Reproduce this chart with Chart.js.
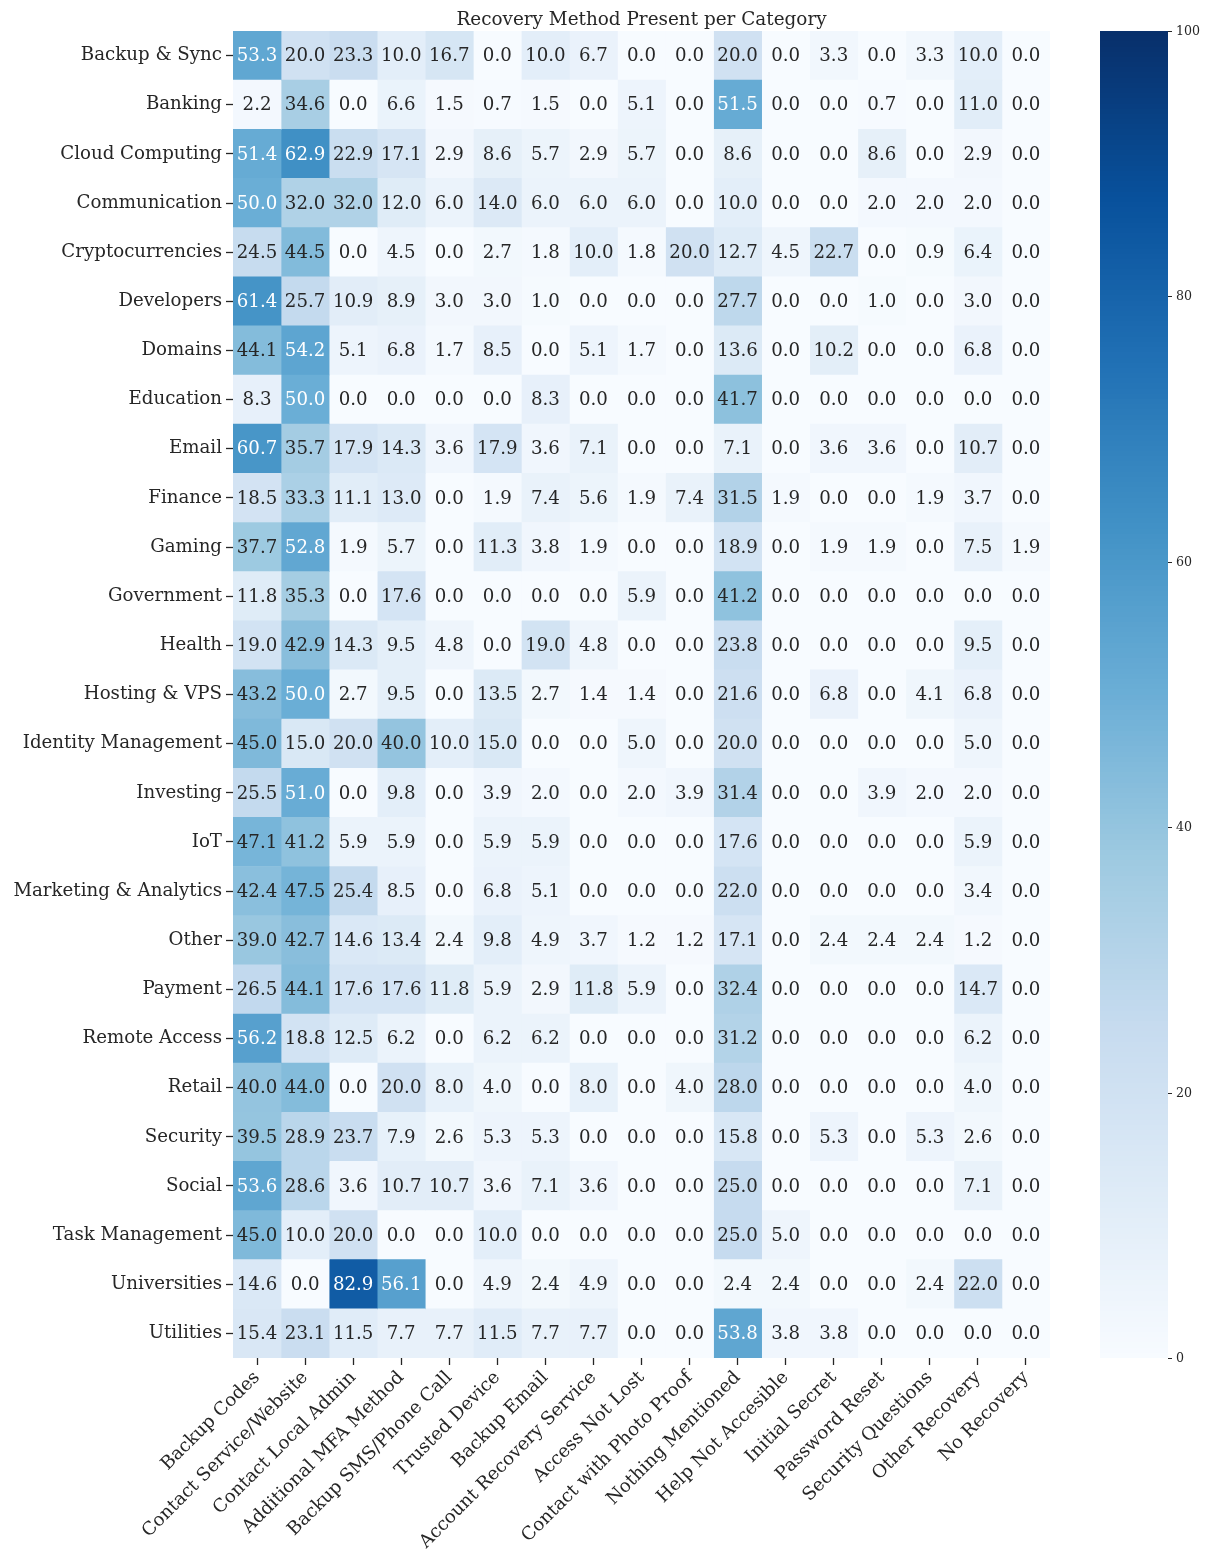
<!DOCTYPE html>
<html>
<head>
<meta charset="utf-8">
<script src="https://cdn.jsdelivr.net/npm/chart.js@4.4.1/dist/chart.umd.min.js"></script>
<style>
  body { margin: 0; background: #fff; }
  #wrap { width: 1210px; height: 1554px; position: relative; }
</style>
</head>
<body>
<div id="wrap"><canvas id="heatmap"></canvas></div>
<script>
const categories = [
  "Backup & Sync", "Banking", "Cloud Computing", "Communication", "Cryptocurrencies",
  "Developers", "Domains", "Education", "Email", "Finance", "Gaming", "Government",
  "Health", "Hosting & VPS", "Identity Management", "Investing", "IoT",
  "Marketing & Analytics", "Other", "Payment", "Remote Access", "Retail", "Security",
  "Social", "Task Management", "Universities", "Utilities"
];

const methods = [
  "Backup Codes", "Contact Service/Website", "Contact Local Admin", "Additional MFA Method",
  "Backup SMS/Phone Call", "Trusted Device", "Backup Email", "Account Recovery Service",
  "Access Not Lost", "Contact with Photo Proof", "Nothing Mentioned", "Help Not Accesible",
  "Initial Secret", "Password Reset", "Security Questions", "Other Recovery", "No Recovery"
];

const colorbarTicks = [0, 20, 40, 60, 80, 100];

// one row per category, columns in the order of `methods`
const rowBackupSync   = [53.3, 20.0, 23.3, 10.0, 16.7, 0.0, 10.0, 6.7, 0.0, 0.0, 20.0, 0.0, 3.3, 0.0, 3.3, 10.0, 0.0];
const rowBanking      = [2.2, 34.6, 0.0, 6.6, 1.5, 0.7, 1.5, 0.0, 5.1, 0.0, 51.5, 0.0, 0.0, 0.7, 0.0, 11.0, 0.0];
const rowCloud        = [51.4, 62.9, 22.9, 17.1, 2.9, 8.6, 5.7, 2.9, 5.7, 0.0, 8.6, 0.0, 0.0, 8.6, 0.0, 2.9, 0.0];
const rowComm         = [50.0, 32.0, 32.0, 12.0, 6.0, 14.0, 6.0, 6.0, 6.0, 0.0, 10.0, 0.0, 0.0, 2.0, 2.0, 2.0, 0.0];
const rowCrypto       = [24.5, 44.5, 0.0, 4.5, 0.0, 2.7, 1.8, 10.0, 1.8, 20.0, 12.7, 4.5, 22.7, 0.0, 0.9, 6.4, 0.0];
const rowDevelopers   = [61.4, 25.7, 10.9, 8.9, 3.0, 3.0, 1.0, 0.0, 0.0, 0.0, 27.7, 0.0, 0.0, 1.0, 0.0, 3.0, 0.0];
const rowDomains      = [44.1, 54.2, 5.1, 6.8, 1.7, 8.5, 0.0, 5.1, 1.7, 0.0, 13.6, 0.0, 10.2, 0.0, 0.0, 6.8, 0.0];
const rowEducation    = [8.3, 50.0, 0.0, 0.0, 0.0, 0.0, 8.3, 0.0, 0.0, 0.0, 41.7, 0.0, 0.0, 0.0, 0.0, 0.0, 0.0];
const rowEmail        = [60.7, 35.7, 17.9, 14.3, 3.6, 17.9, 3.6, 7.1, 0.0, 0.0, 7.1, 0.0, 3.6, 3.6, 0.0, 10.7, 0.0];
const rowFinance      = [18.5, 33.3, 11.1, 13.0, 0.0, 1.9, 7.4, 5.6, 1.9, 7.4, 31.5, 1.9, 0.0, 0.0, 1.9, 3.7, 0.0];
const rowGaming       = [37.7, 52.8, 1.9, 5.7, 0.0, 11.3, 3.8, 1.9, 0.0, 0.0, 18.9, 0.0, 1.9, 1.9, 0.0, 7.5, 1.9];
const rowGovernment   = [11.8, 35.3, 0.0, 17.6, 0.0, 0.0, 0.0, 0.0, 5.9, 0.0, 41.2, 0.0, 0.0, 0.0, 0.0, 0.0, 0.0];
const rowHealth       = [19.0, 42.9, 14.3, 9.5, 4.8, 0.0, 19.0, 4.8, 0.0, 0.0, 23.8, 0.0, 0.0, 0.0, 0.0, 9.5, 0.0];
const rowHosting      = [43.2, 50.0, 2.7, 9.5, 0.0, 13.5, 2.7, 1.4, 1.4, 0.0, 21.6, 0.0, 6.8, 0.0, 4.1, 6.8, 0.0];
const rowIdentity     = [45.0, 15.0, 20.0, 40.0, 10.0, 15.0, 0.0, 0.0, 5.0, 0.0, 20.0, 0.0, 0.0, 0.0, 0.0, 5.0, 0.0];
const rowInvesting    = [25.5, 51.0, 0.0, 9.8, 0.0, 3.9, 2.0, 0.0, 2.0, 3.9, 31.4, 0.0, 0.0, 3.9, 2.0, 2.0, 0.0];
const rowIoT          = [47.1, 41.2, 5.9, 5.9, 0.0, 5.9, 5.9, 0.0, 0.0, 0.0, 17.6, 0.0, 0.0, 0.0, 0.0, 5.9, 0.0];
const rowMarketing    = [42.4, 47.5, 25.4, 8.5, 0.0, 6.8, 5.1, 0.0, 0.0, 0.0, 22.0, 0.0, 0.0, 0.0, 0.0, 3.4, 0.0];
const rowOther        = [39.0, 42.7, 14.6, 13.4, 2.4, 9.8, 4.9, 3.7, 1.2, 1.2, 17.1, 0.0, 2.4, 2.4, 2.4, 1.2, 0.0];
const rowPayment      = [26.5, 44.1, 17.6, 17.6, 11.8, 5.9, 2.9, 11.8, 5.9, 0.0, 32.4, 0.0, 0.0, 0.0, 0.0, 14.7, 0.0];
const rowRemote       = [56.2, 18.8, 12.5, 6.2, 0.0, 6.2, 6.2, 0.0, 0.0, 0.0, 31.2, 0.0, 0.0, 0.0, 0.0, 6.2, 0.0];
const rowRetail       = [40.0, 44.0, 0.0, 20.0, 8.0, 4.0, 0.0, 8.0, 0.0, 4.0, 28.0, 0.0, 0.0, 0.0, 0.0, 4.0, 0.0];
const rowSecurity     = [39.5, 28.9, 23.7, 7.9, 2.6, 5.3, 5.3, 0.0, 0.0, 0.0, 15.8, 0.0, 5.3, 0.0, 5.3, 2.6, 0.0];
const rowSocial       = [53.6, 28.6, 3.6, 10.7, 10.7, 3.6, 7.1, 3.6, 0.0, 0.0, 25.0, 0.0, 0.0, 0.0, 0.0, 7.1, 0.0];
const rowTask         = [45.0, 10.0, 20.0, 0.0, 0.0, 10.0, 0.0, 0.0, 0.0, 0.0, 25.0, 5.0, 0.0, 0.0, 0.0, 0.0, 0.0];
const rowUniversities = [14.6, 0.0, 82.9, 56.1, 0.0, 4.9, 2.4, 4.9, 0.0, 0.0, 2.4, 2.4, 0.0, 0.0, 2.4, 22.0, 0.0];
const rowUtilities    = [15.4, 23.1, 11.5, 7.7, 7.7, 11.5, 7.7, 7.7, 0.0, 0.0, 53.8, 3.8, 3.8, 0.0, 0.0, 0.0, 0.0];

const cellValues = [
  rowBackupSync, rowBanking, rowCloud, rowComm, rowCrypto, rowDevelopers, rowDomains,
  rowEducation, rowEmail, rowFinance, rowGaming, rowGovernment, rowHealth, rowHosting,
  rowIdentity, rowInvesting, rowIoT, rowMarketing, rowOther, rowPayment, rowRemote,
  rowRetail, rowSecurity, rowSocial, rowTask, rowUniversities, rowUtilities
];

const VMIN = 0, VMAX = 100;
const TEXT_DARK = "#262626";

// matplotlib "Blues" anchors
const bluesStops = [
  [247, 251, 255], [222, 235, 247], [198, 219, 239], [158, 202, 225], [107, 174, 214],
  [66, 146, 198], [33, 113, 181], [8, 81, 156], [8, 48, 107]
];

function bluesRGB(v) {
  // quantize like a 256-entry colormap
  let idx = Math.floor((v - VMIN) / (VMAX - VMIN) * 256);
  idx = Math.max(0, Math.min(255, idx));
  const t = idx / 255 * (bluesStops.length - 1);
  const i = Math.min(Math.floor(t), bluesStops.length - 2);
  const f = t - i;
  const a = bluesStops[i], b = bluesStops[i + 1];
  return [0, 1, 2].map(k => a[k] + (b[k] - a[k]) * f);
}

function rgbStr(c) {
  return `rgb(${Math.round(c[0])}, ${Math.round(c[1])}, ${Math.round(c[2])})`;
}

// same rule seaborn uses to pick the annotation colour
function luminance(c) {
  const lin = c.map(x => {
    x = x / 255;
    return x <= 0.03928 ? x / 12.92 : Math.pow((x + 0.055) / 1.055, 2.4);
  });
  return 0.2126 * lin[0] + 0.7152 * lin[1] + 0.0722 * lin[2];
}

Chart.defaults.font.family = "'DejaVu Serif', serif";
Chart.defaults.color = TEXT_DARK;

const titlePlugin = {
  id: 'axesTitle',
  afterDraw(chart) {
    const { ctx, chartArea } = chart;
    ctx.save();
    ctx.font = "18.4px 'DejaVu Serif'";
    ctx.fillStyle = TEXT_DARK;
    ctx.textAlign = 'center';
    ctx.textBaseline = 'alphabetic';
    ctx.fillText("Recovery Method Present per Category", (chartArea.left + chartArea.right) / 2, 25);
    ctx.restore();
  }
};

const annotatePlugin = {
  id: 'annotate',
  afterDatasetsDraw(chart) {
    const { ctx } = chart;
    ctx.save();
    ctx.font = "18.2px 'DejaVu Serif'";
    ctx.textAlign = 'center';
    ctx.textBaseline = 'middle';
    chart.data.datasets.forEach((ds, j) => {
      const meta = chart.getDatasetMeta(j);
      meta.data.forEach((bar, i) => {
        const v = ds.values[i];
        const c = bluesRGB(v);
        const p = bar.getCenterPoint();
        ctx.fillStyle = luminance(c) > 0.408 ? TEXT_DARK : '#ffffff';
        ctx.fillText(v.toFixed(1), p.x, p.y + 1);
      });
    });
    ctx.restore();
  }
};

const colorbarPlugin = {
  id: 'colorbar',
  afterDraw(chart) {
    const { ctx } = chart;
    const cb = chart.scales.cb;
    const x0 = 1100, x1 = 1168;
    const top = cb.getPixelForValue(VMAX);
    const bottom = cb.getPixelForValue(VMIN);
    ctx.save();
    for (let y = Math.floor(top); y < bottom; y++) {
      const v = cb.getValueForPixel(y + 0.5);
      ctx.fillStyle = rgbStr(bluesRGB(v));
      ctx.fillRect(x0, y, x1 - x0, 1);
    }
    ctx.strokeStyle = TEXT_DARK;
    ctx.lineWidth = 1;
    ctx.fillStyle = TEXT_DARK;
    ctx.font = "12.6px 'DejaVu Serif'";
    ctx.textAlign = 'left';
    ctx.textBaseline = 'middle';
    colorbarTicks.forEach(t => {
      const y = Math.round(cb.getPixelForValue(t)) + 0.5;
      ctx.beginPath();
      ctx.moveTo(x1, y);
      ctx.lineTo(x1 + 4, y);
      ctx.stroke();
      ctx.fillText(String(t), x1 + 8, y);
    });
    ctx.restore();
  }
};

const datasets = methods.map((m, j) => ({
  label: m,
  data: categories.map(() => 1),           // each cell is one column wide
  values: cellValues.map(row => row[j]),
  backgroundColor: cellValues.map(row => rgbStr(bluesRGB(row[j]))),
  borderWidth: 0,
  barPercentage: 1,
  categoryPercentage: 1,
}));

new Chart(document.getElementById('heatmap'), {
  type: 'bar',
  data: { labels: categories, datasets },
  options: {
    indexAxis: 'y',
    responsive: true,
    maintainAspectRatio: false,
    animation: false,
    events: [],
    layout: { padding: { top: 31, right: 160, left: 0, bottom: 0 } },
    plugins: {
      legend: { display: false },
      tooltip: { enabled: false },
      title: { display: false },
    },
    scales: {
      x: {
        type: 'linear',
        stacked: true,
        min: 0,
        max: methods.length,
        afterBuildTicks(scale) {
          scale.ticks = methods.map((_, i) => ({ value: i + 0.5 }));
        },
        afterFit(scale) { scale.height = 196; },
        ticks: {
          autoSkip: false,
          minRotation: 45,
          maxRotation: 45,
          padding: 2,
          font: { size: 18.2 },
          color: TEXT_DARK,
          callback: (value) => methods[Math.floor(value)],
        },
        grid: {
          drawOnChartArea: false,
          drawTicks: true,
          tickLength: 7,
          tickWidth: 1.3,
          tickColor: TEXT_DARK,
        },
        border: { display: false },
      },
      y: {
        type: 'category',
        stacked: true,
        offset: true,
        afterFit(scale) { scale.width = 233; },
        ticks: {
          padding: 4,
          font: { size: 18.2 },
          color: TEXT_DARK,
        },
        grid: {
          offset: false,
          drawOnChartArea: false,
          drawTicks: true,
          tickLength: 7,
          tickWidth: 1.3,
          tickColor: TEXT_DARK,
        },
        border: { display: false },
      },
      // value scale of the colour bar: zero-width, spans the plot height; drawn by colorbarPlugin
      cb: {
        type: 'linear',
        axis: 'y',
        position: 'right',
        offset: false,
        min: VMIN,
        max: VMAX,
        afterFit(scale) { scale.width = 0; },
        ticks: { display: false },
        grid: { display: false },
        border: { display: false },
      },
    },
  },
  plugins: [titlePlugin, annotatePlugin, colorbarPlugin],
});
</script>
</body>
</html>
